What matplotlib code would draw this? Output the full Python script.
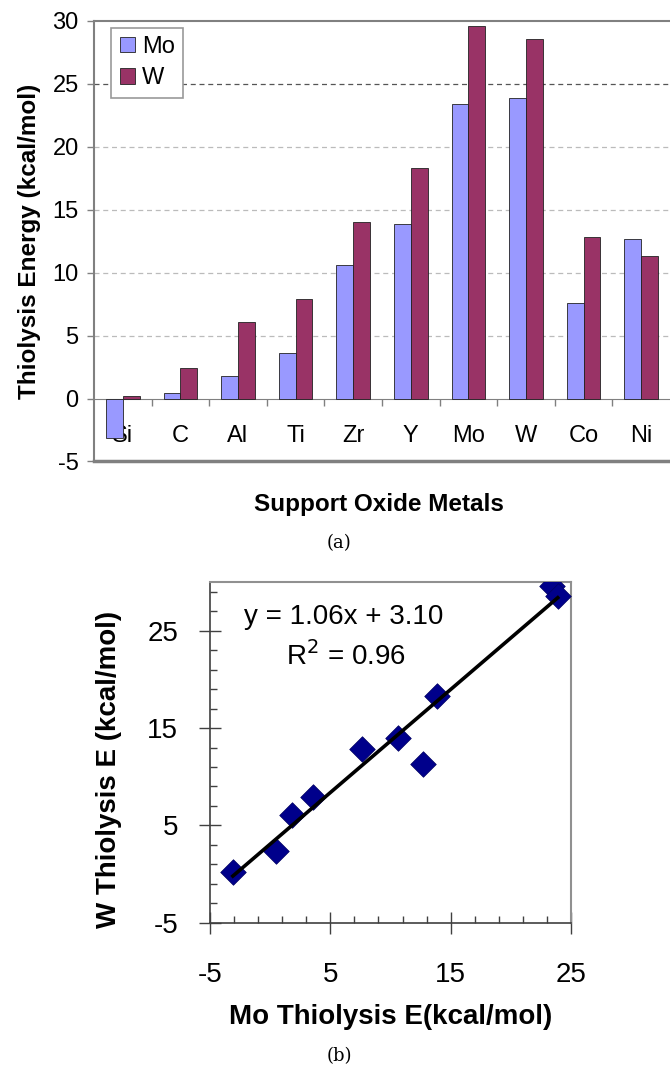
import numpy as np
import matplotlib.pyplot as plt
from matplotlib.ticker import FixedLocator
from matplotlib.transforms import ScaledTranslation

plt.rcParams['font.family'] = ['Liberation Sans', 'DejaVu Sans']
plt.rcParams['axes.unicode_minus'] = False

# data
metals = ['Si', 'C', 'Al', 'Ti', 'Zr', 'Y', 'Mo', 'W', 'Co', 'Ni']
mo_energy = [-3.1, 0.45, 1.8, 3.6, 10.6, 13.9, 23.4, 23.9, 7.6, 12.7]
w_energy = [0.2, 2.4, 6.1, 7.9, 14.0, 18.3, 29.6, 28.6, 12.8, 11.3]
eq_text = 'y = 1.06x + 3.10'
r2_text = 'R$^2$ = 0.96'

mo_col = '#9999FF'
w_col = '#993366'
frame_col = '#808080'

fig = plt.figure(figsize=(6.7, 10.65), dpi=100)

# ---- (a) bar chart ----
ax = fig.add_axes([0.1403, 0.5667, 0.8597, 0.4136])
x = np.arange(len(metals))
bw = 0.29
ax.bar(x - bw / 2, mo_energy, bw, color=mo_col, edgecolor='#222222', linewidth=0.6, label='Mo', zorder=3)
ax.bar(x + bw / 2, w_energy, bw, color=w_col, edgecolor='#222222', linewidth=0.6, label='W', zorder=3)

ax.set_xlim(-0.5, len(metals) - 0.5)
ax.set_ylim(-5, 30)
ax.set_yticks(np.arange(-5, 31, 5))
ax.tick_params(axis='y', labelsize=17, length=5, width=1, color=frame_col, pad=6)

ax.spines['bottom'].set_position(('data', 0))
ax.spines['bottom'].set_color(frame_col)
ax.spines['right'].set_visible(False)
ax.spines['top'].set_color(frame_col)
ax.spines['left'].set_color(frame_col)
ax.spines['top'].set_linewidth(1.5)
ax.spines['left'].set_linewidth(1.5)

ax.set_xticks(x)
ax.set_xticklabels(metals)
ax.xaxis.set_minor_locator(FixedLocator(np.arange(0.5, len(metals) - 0.5, 1)))
ax.tick_params(axis='x', which='major', length=0, labelsize=17, pad=19)
ax.tick_params(axis='x', which='minor', length=5, width=1, color=frame_col)

# plot area border at the bottom
ax.axhline(-5, color=frame_col, linewidth=2.5, zorder=4, clip_on=False)

for v in range(5, 30, 5):
    ax.axhline(v, color='#555555' if v == 25 else '#bbbbbb', linestyle=(0, (4, 3)),
               linewidth=0.9, zorder=1)

ax.set_ylabel('Thiolysis Energy (kcal/mol)', fontsize=17.5, fontweight='bold', labelpad=8)
ax.text(0.5 * (len(metals) - 1) - 0.05, -5, 'Support Oxide Metals', fontsize=17.5,
        fontweight='bold', ha='center', va='center',
        transform=ax.transData + ScaledTranslation(0, -0.43, fig.dpi_scale_trans))

leg = ax.legend(loc='upper left', bbox_to_anchor=(0.03, 0.985), fontsize=17, frameon=True,
                fancybox=False, edgecolor='#999999', framealpha=1, handlelength=0.65,
                handleheight=0.65, handletextpad=0.3, borderpad=0.35, labelspacing=0.4,
                borderaxespad=0)
leg.get_frame().set_linewidth(1.2)

fig.text(0.506, 1 - 543 / 1065, '(a)', fontsize=13, family='DejaVu Serif', ha='center', va='center')

# ---- (b) scatter ----
bx = fig.add_axes([0.3134, 0.1336, 0.5388, 0.3199])
bx.scatter(mo_energy, w_energy, marker='D', s=170, color='#00008B', edgecolor='#000060',
           linewidth=0.5, zorder=3)
slope, icpt = np.polyfit(mo_energy, w_energy, 1)
xs = np.array([min(mo_energy), max(mo_energy)])
bx.plot(xs, slope * xs + icpt, color='black', linewidth=2.6, zorder=4)

bx.set_xlim(-5, 25)
bx.set_ylim(-5, 30)
bx.set_xticks([-5, 5, 15, 25])
bx.set_yticks([-5, 5, 15, 25])
bx.xaxis.set_minor_locator(FixedLocator(np.arange(-3, 25, 2)))
bx.yaxis.set_minor_locator(FixedLocator(np.arange(-3, 30, 2)))
bx.tick_params(which='major', direction='inout', length=16, width=1, color='#404040', labelsize=20)
bx.tick_params(which='minor', direction='in', length=5, width=1, color='#404040')
bx.tick_params(axis='x', which='major', pad=20)
bx.tick_params(axis='y', which='major', pad=15)
for s in ['left', 'bottom']:
    bx.spines[s].set_color('#404040')
    bx.spines[s].set_linewidth(1.2)
for s in ['top', 'right']:
    bx.spines[s].set_color('#909090')
    bx.spines[s].set_linewidth(1.5)

bx.set_xlabel('Mo Thiolysis E(kcal/mol)', fontsize=20, fontweight='bold', labelpad=12)
bx.set_ylabel('W Thiolysis E (kcal/mol)', fontsize=20, fontweight='bold')
bx.yaxis.set_label_coords(-0.245, 0.449)
bx.text(6.1, 26.4, eq_text, fontsize=20, ha='center', va='center')
bx.text(6.3, 22.4, r2_text, fontsize=20, ha='center', va='center')

fig.text(0.506, 1 - 1056 / 1065, '(b)', fontsize=13, family='DejaVu Serif', ha='center', va='center')

fig.savefig('out.png', dpi=100)
